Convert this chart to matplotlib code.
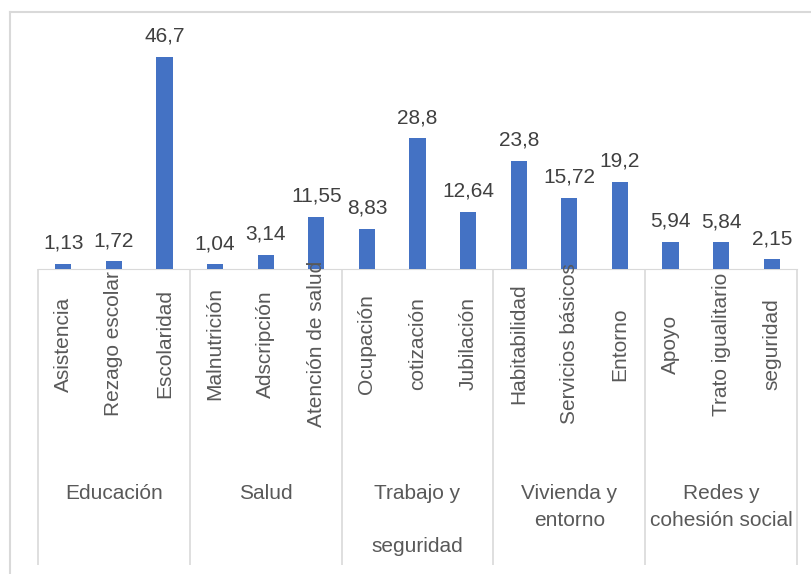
import matplotlib
matplotlib.use('Agg')
import matplotlib.pyplot as plt
from matplotlib.lines import Line2D

# datos
grupos = ['Educación', 'Salud', 'Trabajo y\n\nseguridad', 'Vivienda y\nentorno',
          'Redes y\ncohesión social']
indicadores = ['Asistencia', 'Rezago escolar', 'Escolaridad',
               'Malnutrición', 'Adscripción', 'Atención de salud',
               'Ocupación', 'cotización', 'Jubilación',
               'Habitabilidad', 'Servicios básicos', 'Entorno',
               'Apoyo', 'Trato igualitario', 'seguridad']
valores = [1.13, 1.72, 46.7,
           1.04, 3.14, 11.55,
           8.83, 28.8, 12.64,
           23.8, 15.72, 19.2,
           5.94, 5.84, 2.15]

plt.rcParams['font.family'] = ['Liberation Sans', 'DejaVu Sans']
AZUL = '#4472C4'
GRIS = '#D9D9D9'
TXT = '#595959'
FS = 15

W, H = 812, 574
fig = plt.figure(figsize=(W / 100, H / 100), dpi=100)
base_y = 269
ax = fig.add_axes([38 / W, (H - base_y) / H, 759 / W, 227 / H])

x = [i + 0.5 for i in range(len(valores))]
ax.bar(x, valores, width=0.32, color=AZUL, zorder=3)
ax.set_xlim(0, len(valores))
ax.set_ylim(0, 50)

for xi, v in zip(x, valores):
    ax.annotate(str(v).replace('.', ','), (xi, v), xytext=(0, 8),
                textcoords='offset points', ha='center', va='bottom',
                fontsize=FS, color='#404040')

for s in ['top', 'right', 'left']:
    ax.spines[s].set_visible(False)
ax.spines['bottom'].set_color(GRIS)
ax.set_xticks([])
ax.set_yticks([])

# eje de categorías en dos niveles
tr = ax.get_xaxis_transform()
px = 1 / 227
ax.vlines([0, 3, 6, 9, 12, 15], 0, -(565 - base_y) * px, transform=tr,
          colors=GRIS, linewidth=1.2, clip_on=False)
for xi, lab in zip(x, indicadores):
    ax.text(xi, -(344 - base_y) * px, lab, transform=tr, rotation=90,
            ha='center', va='center', fontsize=FS, color=TXT)
for g, lab in enumerate(grupos):
    ax.text(3 * g + 1.5, -(484 - base_y) * px, lab, transform=tr,
            ha='center', va='top', fontsize=FS, color=TXT, linespacing=1.5)

# marco del gráfico
fig.add_artist(Line2D([10 / W, 10 / W], [0, 1 - 12 / H], color=GRIS, lw=1.5))
fig.add_artist(Line2D([10 / W, 1], [1 - 12 / H, 1 - 12 / H], color=GRIS, lw=1.5))

fig.savefig('out.png', dpi=100)
